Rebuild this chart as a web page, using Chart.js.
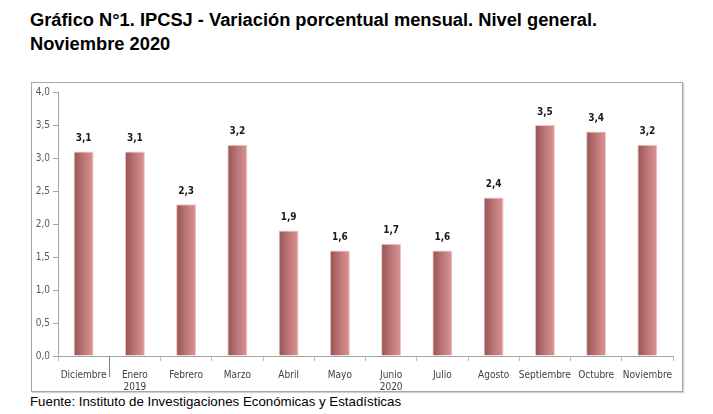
<!DOCTYPE html>
<html>
<head>
<meta charset="utf-8">
<script src="https://cdn.jsdelivr.net/npm/chart.js@4/dist/chart.umd.min.js"></script>
<style>
  html, body { margin: 0; padding: 0; background: #fff; }
  body { width: 713px; height: 414px; position: relative; overflow: hidden; font-family: "Liberation Sans", Arial, sans-serif; }
  #title { position: absolute; left: 30px; top: 8px; font-size: 18.3px; font-weight: bold; line-height: 24px; color: #000; }
  #box { position: absolute; left: 31px; top: 82px; width: 650px; height: 308px; border: 1px solid #a6a6a6; box-shadow: 1px 1px 1px #d0d0d0; }
  #wrap { position: absolute; left: 0; top: 0; width: 650px; height: 308px; }
  #source { position: absolute; left: 30px; top: 394px; font-size: 13.3px; color: #000; }
</style>
</head>
<body>
<div id="title">Gráfico N°1. IPCSJ - Variación porcentual mensual. Nivel general.<br>Noviembre 2020</div>
<div id="box"><div id="wrap"><canvas id="c"></canvas></div></div>
<div id="source">Fuente: Instituto de Investigaciones Económicas y Estadísticas</div>
<script>
const categories = ["Diciembre", ["Enero", "2019"], "Febrero", "Marzo", "Abril", "Mayo", ["Junio", "2020"], "Julio", "Agosto", "Septiembre", "Octubre", "Noviembre"];
const values = [3.1, 3.1, 2.3, 3.2, 1.9, 1.6, 1.7, 1.6, 2.4, 3.5, 3.4, 3.2];
const yTicks = [0, 0.5, 1.0, 1.5, 2.0, 2.5, 3.0, 3.5, 4.0];
const separatorAfter = [0];

const BAR_FRAC = 0.39;
const fmt = v => v.toFixed(1).replace('.', ',');

function barGradient(ctx) {
  const chart = ctx.chart;
  const xs = chart.scales && chart.scales.x;
  if (!xs || ctx.dataIndex === undefined) return '#c07878';
  const cx = xs.getPixelForValue(ctx.dataIndex);
  const w = (xs.width / categories.length) * BAR_FRAC;
  if (!isFinite(cx) || !isFinite(w) || w <= 0) return '#c07878';
  const g = chart.ctx.createLinearGradient(cx - w / 2, 0, cx + w / 2, 0);
  g.addColorStop(0, '#945454');
  g.addColorStop(0.5, '#bd7676');
  g.addColorStop(1, '#dc9494');
  return g;
}

const labelPlugin = {
  id: 'vals',
  afterDatasetsDraw(chart) {
    const c = chart.ctx;
    const meta = chart.getDatasetMeta(0);
    c.save();
    c.font = 'bold 10px "Liberation Sans Narrow", "DejaVu Sans Condensed", sans-serif';
    c.fillStyle = '#1a1a1a';
    c.textAlign = 'center';
    c.textBaseline = 'bottom';
    meta.data.forEach((el, i) => {
      c.fillText(fmt(values[i]), el.x, el.y - 8);
    });
    c.restore();
  }
};

const sepPlugin = {
  id: 'sep',
  afterDraw(chart) {
    const xs = chart.scales.x;
    const c = chart.ctx;
    c.save();
    c.strokeStyle = '#7f7f7f';
    c.lineWidth = 1;
    separatorAfter.forEach(i => {
      const x = Math.round((xs.getPixelForValue(i) + xs.getPixelForValue(i + 1)) / 2) + 0.5;
      c.beginPath();
      c.moveTo(x, xs.top);
      c.lineTo(x, xs.top + 21);
      c.stroke();
    });
    c.restore();
  }
};

new Chart(document.getElementById('c'), {
  type: 'bar',
  data: {
    labels: categories,
    datasets: [{
      data: values,
      backgroundColor: barGradient,
      borderColor: '#f2c4c4',
      borderWidth: 1,
      categoryPercentage: 1,
      barPercentage: BAR_FRAC
    }]
  },
  options: {
    responsive: true,
    maintainAspectRatio: false,
    animation: false,
    layout: { padding: { top: 8, right: 9, left: 0, bottom: 0 } },
    plugins: { legend: { display: false }, tooltip: { enabled: false } },
    scales: {
      x: {
        grid: { display: true, drawOnChartArea: false, drawTicks: true, tickLength: 5, color: '#bfbfbf', offset: true },
        border: { color: '#a6a6a6' },
        ticks: {
          color: '#404040',
          font: { size: 10, family: '"Liberation Sans Narrow", "DejaVu Sans Condensed", sans-serif' },
          maxRotation: 0, autoSkip: false, padding: 8
        },
        afterFit(s) { s.height = 35; }
      },
      y: {
        min: 0, max: 4,
        afterBuildTicks(s) { s.ticks = yTicks.map(v => ({ value: v })); },
        grid: { display: true, drawOnChartArea: false, drawTicks: true, tickLength: 5, color: '#a6a6a6' },
        border: { color: '#a6a6a6' },
        ticks: {
          color: '#595959',
          font: { size: 10, family: '"Liberation Sans Narrow", "DejaVu Sans Condensed", sans-serif' },
          padding: 3,
          callback: v => fmt(v)
        },
        afterFit(s) { s.width = 26; }
      }
    }
  },
  plugins: [labelPlugin, sepPlugin]
});
</script>
</body>
</html>
